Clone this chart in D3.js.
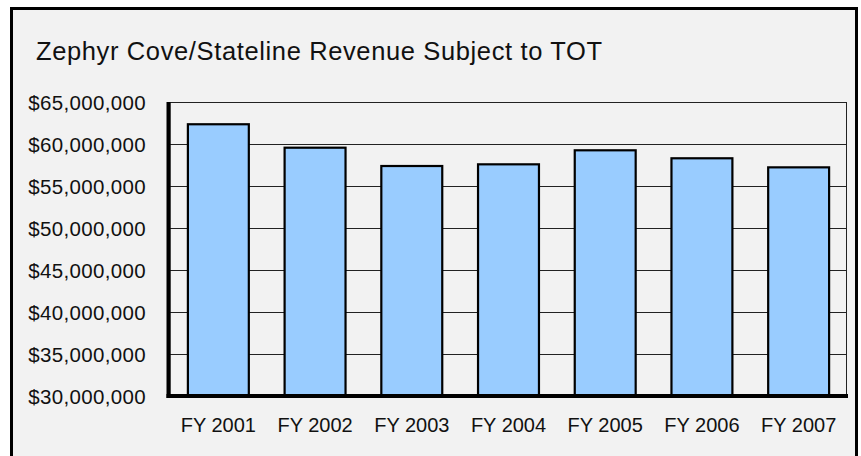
<!DOCTYPE html>
<html>
<head>
<meta charset="utf-8">
<script src="https://cdn.jsdelivr.net/npm/d3@7"></script>
<style>
  body { margin: 0; background: #fff; }
  svg text { font-family: Arial, "Liberation Sans", sans-serif; fill: #111; }
</style>
</head>
<body>
<div id="chart"></div>
<script>
"use strict";

// data
var years = ["FY 2001", "FY 2002", "FY 2003", "FY 2004", "FY 2005", "FY 2006", "FY 2007"];
var revenue = [62350000, 59560000, 57380000, 57580000, 59250000, 58300000, 57220000];
var yTicks = [30000000, 35000000, 40000000, 45000000, 50000000, 55000000, 60000000, 65000000];

var W = 861, H = 456;
var plot = { left: 170, right: 847, top: 102, bottom: 396 };

var svg = d3.select("#chart").append("svg")
  .attr("width", W).attr("height", H);

// frame
svg.append("rect")
  .attr("x", 11.5).attr("y", 8.5)
  .attr("width", 845).attr("height", 460)
  .attr("fill", "#f2f2f2")
  .attr("stroke", "#000").attr("stroke-width", 3);

svg.append("text")
  .attr("x", 36).attr("y", 60)
  .attr("textLength", 566)
  .attr("lengthAdjust", "spacing")
  .style("font-size", "25.5px")
  .text("Zephyr Cove/Stateline Revenue Subject to TOT");

var x = d3.scaleBand()
  .domain(years)
  .range([plot.left, plot.right])
  .paddingInner(0.37)
  .paddingOuter(0.185);

var y = d3.scaleLinear()
  .domain([30000000, 65000000])
  .range([plot.bottom, plot.top]);

var fmt = function(d) { return "$" + d3.format(",")(d); };

// plot area border
svg.append("rect")
  .attr("x", plot.left).attr("y", plot.top + 0.5)
  .attr("width", plot.right - plot.left - 0.5)
  .attr("height", plot.bottom - plot.top)
  .attr("fill", "none")
  .attr("stroke", "#222").attr("stroke-width", 1);

// gridlines
svg.append("g").selectAll("line")
  .data(yTicks.slice(1, -1))
  .enter().append("line")
  .attr("x1", plot.left).attr("x2", plot.right)
  .attr("y1", function(d) { return Math.round(y(d)) + 0.5; })
  .attr("y2", function(d) { return Math.round(y(d)) + 0.5; })
  .attr("stroke", "#222").attr("stroke-width", 1);

// bars
svg.append("g").selectAll("rect")
  .data(revenue)
  .enter().append("rect")
  .attr("x", function(d, i) { return x(years[i]); })
  .attr("y", function(d) { return y(d); })
  .attr("width", x.bandwidth())
  .attr("height", function(d) { return plot.bottom - y(d); })
  .attr("fill", "#99ccff")
  .attr("stroke", "#000").attr("stroke-width", 2.2);

// y axis
var yAxis = d3.axisLeft(y).tickValues(yTicks).tickFormat(fmt).tickSize(0).tickPadding(24);
var gy = svg.append("g")
  .attr("transform", "translate(" + plot.left + ",0)")
  .call(yAxis);
gy.select(".domain").remove();
gy.selectAll("text")
  .style("font-size", "20.5px")
  .style("letter-spacing", "0.35px")
  .attr("font-family", null)
  .attr("dy", "0.35em");

// x axis
var xAxis = d3.axisBottom(x).tickSize(0).tickPadding(22);
var gx = svg.append("g")
  .attr("transform", "translate(0," + plot.bottom + ")")
  .call(xAxis);
gx.select(".domain").remove();
gx.selectAll("text")
  .style("font-size", "20px")
  .attr("font-family", null);

// thick axis lines
svg.append("line")
  .attr("x1", plot.left - 1.5).attr("x2", plot.left - 1.5)
  .attr("y1", plot.top).attr("y2", plot.bottom + 2)
  .attr("stroke", "#000").attr("stroke-width", 4);
svg.append("line")
  .attr("x1", plot.left - 3.5).attr("x2", plot.right + 1)
  .attr("y1", plot.bottom).attr("y2", plot.bottom)
  .attr("stroke", "#000").attr("stroke-width", 4);
</script>
</body>
</html>
